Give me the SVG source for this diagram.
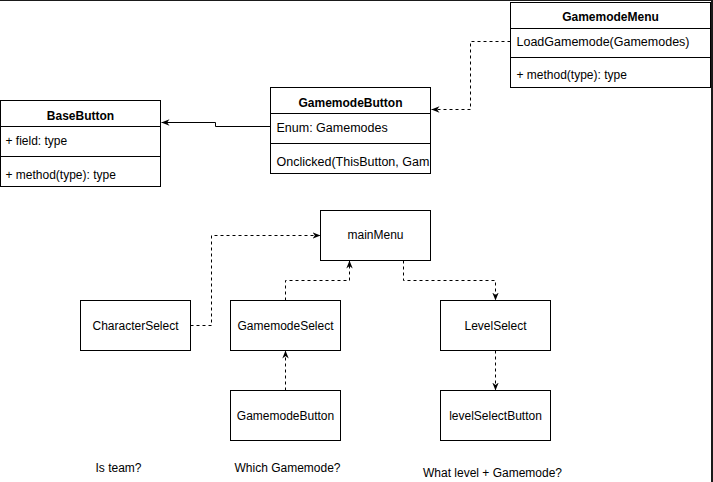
<svg xmlns="http://www.w3.org/2000/svg" width="713" height="482" viewBox="0 0 713 482">
<defs>
<style>
.box{fill:#fff;stroke:#000;stroke-width:1}
.ln{fill:none;stroke:#000;stroke-width:1}
.t{font-family:"Liberation Sans",Arial,Helvetica,sans-serif;font-size:12px;fill:#000}
.w{font-size:12.5px}
.c{text-anchor:middle}
.b{font-weight:bold}
.e{fill:none;stroke:#000;stroke-width:1}
.d{stroke-dasharray:3 3}
</style>
<marker id="arr" viewBox="0 0 10 10" refX="10" refY="5" markerWidth="8" markerHeight="8" orient="auto" markerUnits="userSpaceOnUse">
<path d="M0,1 L10,5 L0,9 L3,5 Z" fill="#000"/>
</marker>
<clipPath id="clipGB"><rect x="270" y="143" width="160" height="30"/></clipPath>
</defs>
<rect x="0" y="0" width="713" height="482" fill="#fff"/>
<rect x="0" y="0" width="713" height="1" fill="#1a1a1a"/>
<rect x="711" y="0" width="2" height="482" fill="#1a1a1a"/>
<g transform="translate(0.5,0.5)">
<g id="connectors">
<path class="e" d="M270,126 L215,126 L215,122 L161,122" marker-end="url(#arr)"/>
<path class="e d" d="M510,41 L470,41 L470,109 L431,109" marker-end="url(#arr)"/>
<path class="e d" d="M190,325 L211,325 L211,235 L320,235" marker-end="url(#arr)"/>
<path class="e d" d="M285,300 L285,280 L349,280 L349,260" marker-end="url(#arr)"/>
<path class="e d" d="M403,260 L403,280 L495,280 L495,300" marker-end="url(#arr)"/>
<path class="e d" d="M285,390 L285,350" marker-end="url(#arr)"/>
<path class="e d" d="M495,350 L495,390" marker-end="url(#arr)"/>
</g>
<g id="GamemodeMenu">
<rect class="box" x="510" y="2" width="200" height="85"/>
<path class="ln" d="M510,28 L710,28 M510,57 L710,57"/>
<text class="t c b" x="610" y="20">GamemodeMenu</text>
<text class="t w" x="516" y="45">LoadGamemode(Gamemodes)</text>
<text class="t" x="516" y="78">+ method(type): type</text>
</g>
<g id="GamemodeButtonClass">
<rect class="box" x="270" y="87" width="160" height="86"/>
<path class="ln" d="M270,113 L430,113 M270,143 L430,143"/>
<text class="t c b" x="350" y="106">GamemodeButton</text>
<text class="t w" x="276" y="131">Enum: Gamemodes</text>
<text class="t w" x="276" y="165" clip-path="url(#clipGB)">Onclicked(ThisButton, Gam</text>
</g>
<g id="BaseButton">
<rect class="box" x="0" y="100" width="160" height="86"/>
<path class="ln" d="M0,126 L160,126 M0,156 L160,156"/>
<text class="t c b" x="80" y="119">BaseButton</text>
<text class="t" x="5" y="144">+ field: type</text>
<text class="t" x="5" y="178">+ method(type): type</text>
</g>
<g id="mainMenu">
<rect class="box" x="320" y="210" width="110" height="50"/>
<text class="t c" x="375" y="238">mainMenu</text>
</g>
<g id="CharacterSelect">
<rect class="box" x="80" y="300" width="110" height="50"/>
<text class="t c" x="135" y="329">CharacterSelect</text>
</g>
<g id="GamemodeSelect">
<rect class="box" x="230" y="300" width="110" height="50"/>
<text class="t c" x="285" y="329">GamemodeSelect</text>
</g>
<g id="LevelSelect">
<rect class="box" x="440" y="300" width="110" height="50"/>
<text class="t c" x="495" y="329">LevelSelect</text>
</g>
<g id="GamemodeButton">
<rect class="box" x="230" y="390" width="110" height="50"/>
<text class="t c" x="285" y="419">GamemodeButton</text>
</g>
<g id="levelSelectButton">
<rect class="box" x="440" y="390" width="110" height="50"/>
<text class="t c" x="495" y="419">levelSelectButton</text>
</g>
<g id="labels">
<text class="t c" x="118" y="471">Is team?</text>
<text class="t c" x="287" y="471">Which Gamemode?</text>
<text class="t c" x="492" y="476">What level + Gamemode?</text>
</g>
</g>
</svg>
